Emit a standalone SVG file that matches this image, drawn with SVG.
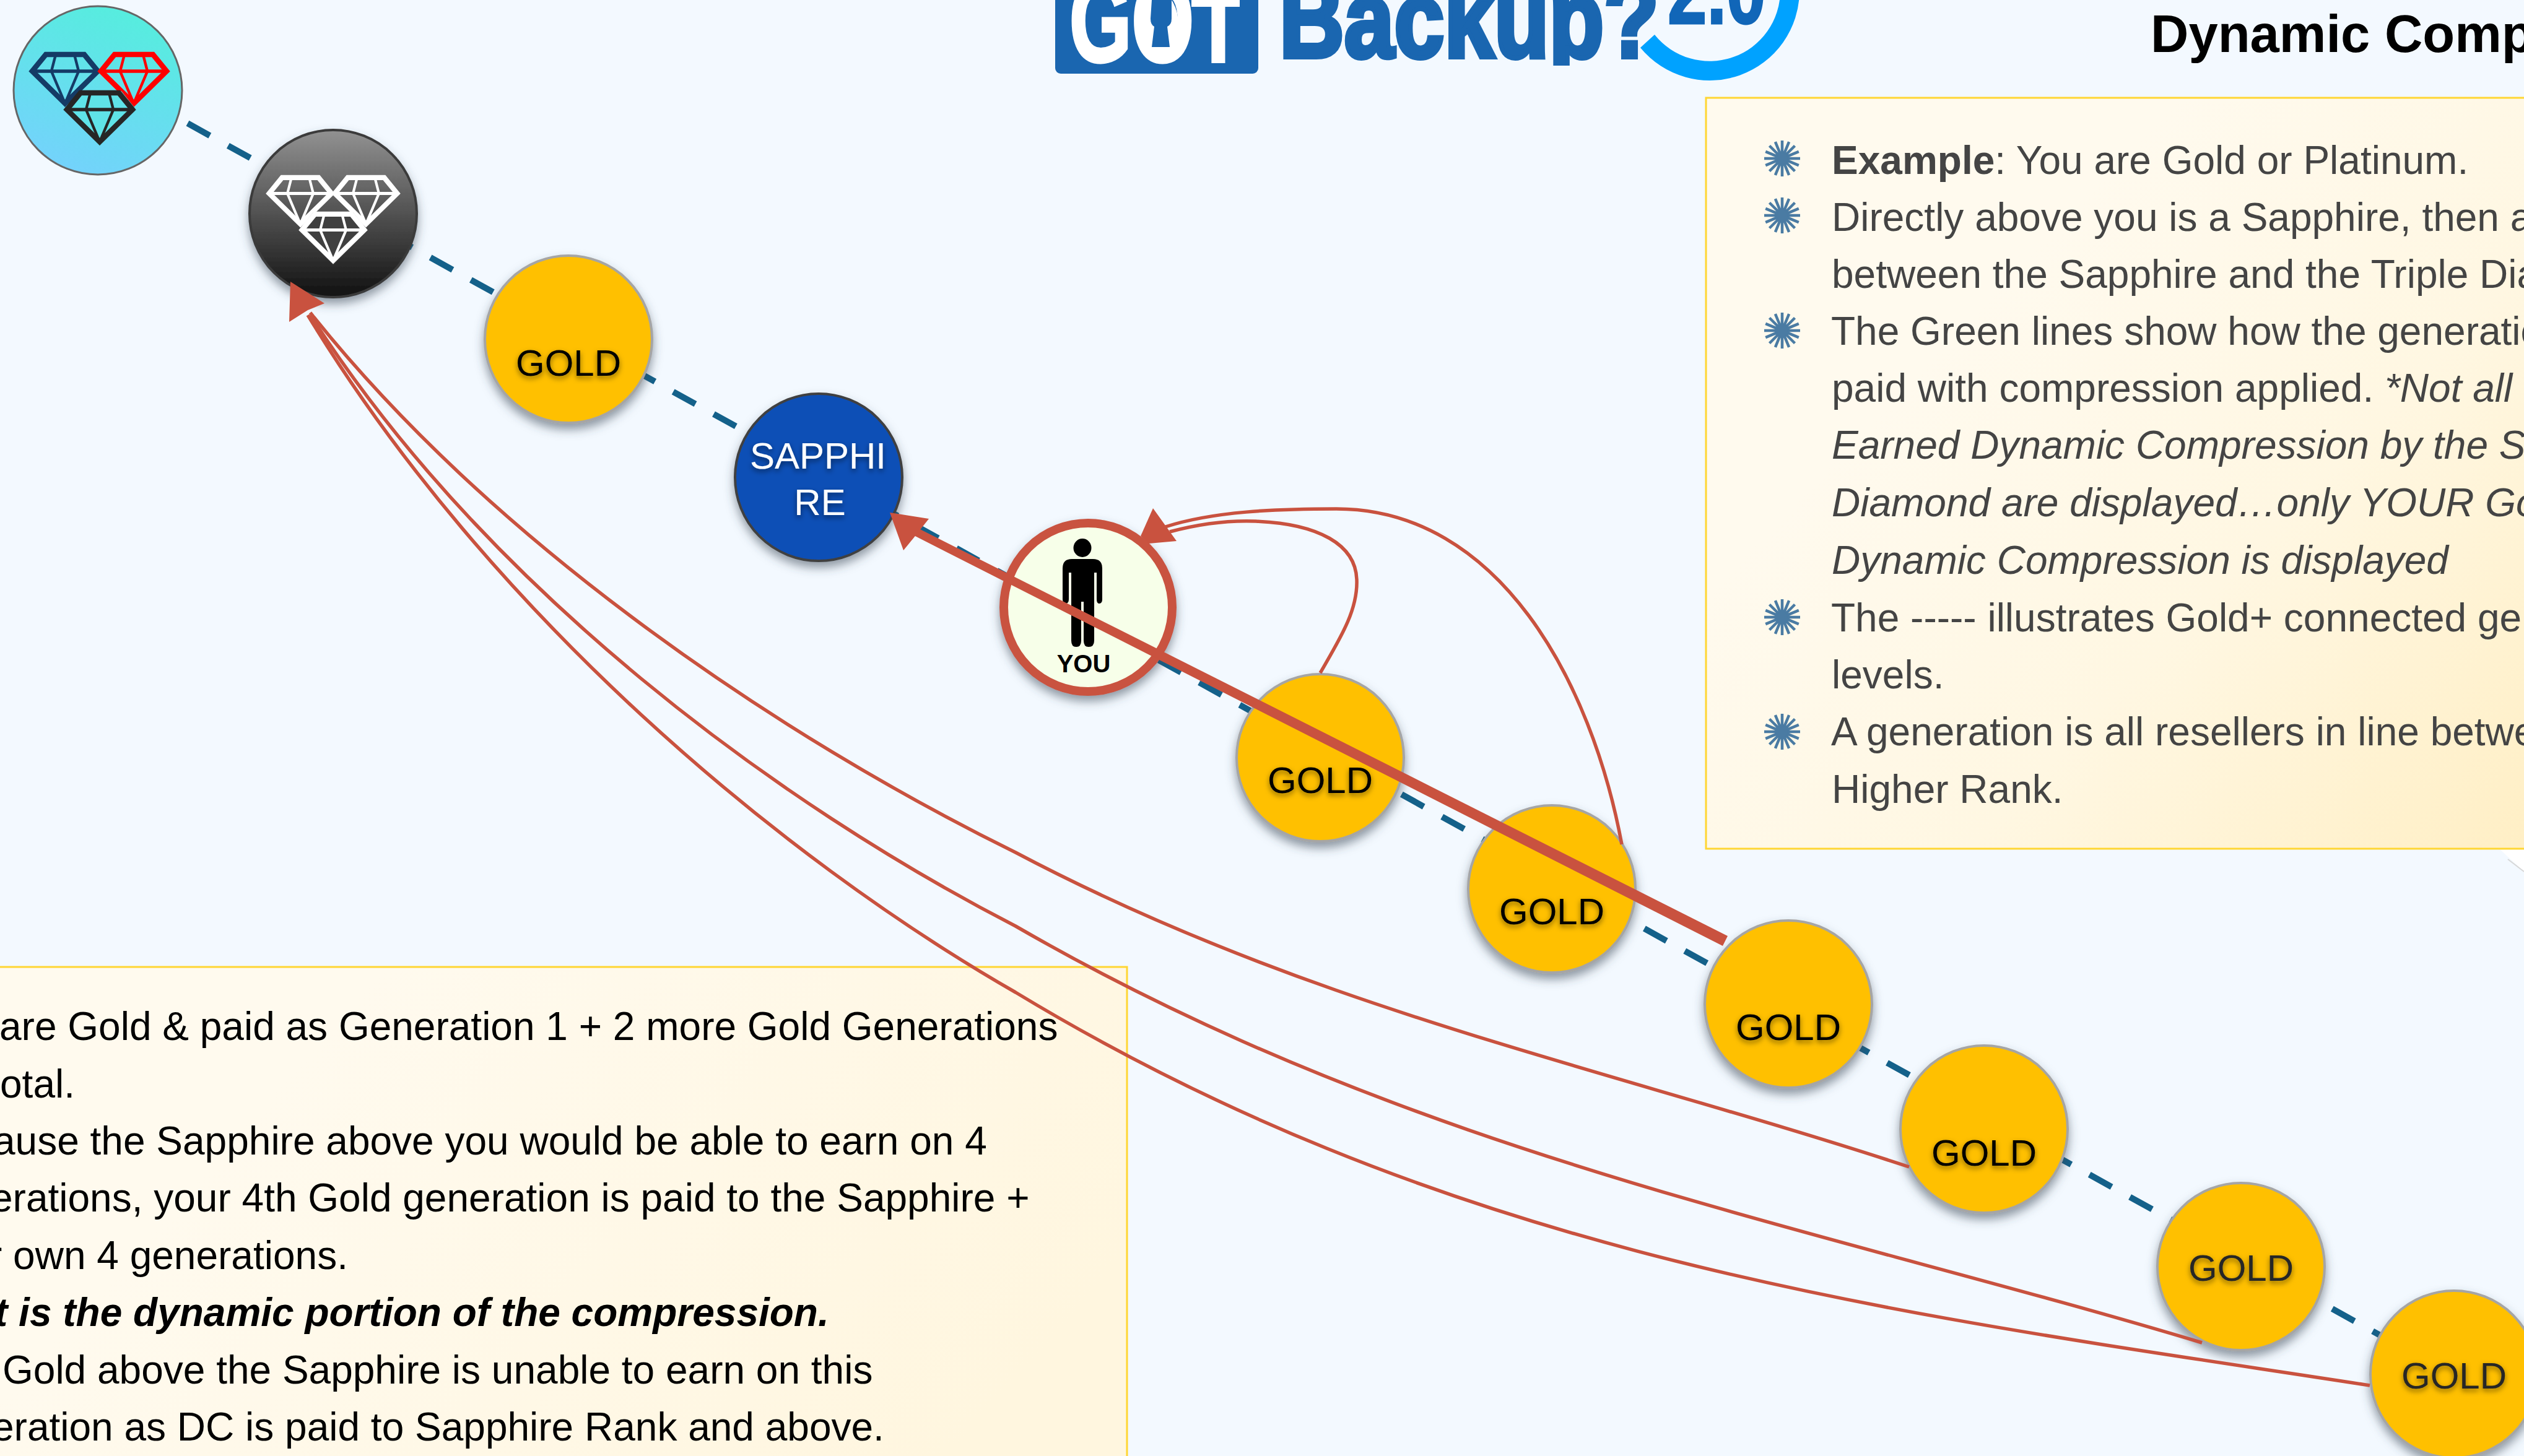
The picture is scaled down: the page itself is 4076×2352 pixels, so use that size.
<svg xmlns="http://www.w3.org/2000/svg" width="4076" height="2352" viewBox="0 0 4076 2352">
<style>
text{font-family:"Liberation Sans",Arial,sans-serif}
.r{font-size:64px;fill:#444}
.l{font-size:64px;fill:#000}
.bi{font-weight:bold;font-style:italic}
.i{font-style:italic}
.b{font-weight:bold}
.gold{fill:#FFC000;stroke:#A5A5A5;stroke-width:4}
.gt{font-size:60px;text-anchor:middle;fill:#000}
.gt2{font-size:60px;text-anchor:middle;fill:#262626}
.thin{fill:none;stroke:#C9523F;stroke-width:5.5}
.red{fill:#C9523F}
.box{stroke:#FFD633;stroke-width:3}
</style>
<defs>
<filter id="sh" x="-20%" y="-20%" width="140%" height="140%"><feDropShadow dx="0" dy="9" stdDeviation="8" flood-color="#3b4a55" flood-opacity=".55"/></filter>
<filter id="ts" x="-20%" y="-30%" width="140%" height="170%"><feDropShadow dx="0" dy="4" stdDeviation="4" flood-color="#000" flood-opacity=".5"/></filter>
<linearGradient id="gr" gradientUnits="userSpaceOnUse" x1="3100" y1="600" x2="4050" y2="1500"><stop offset="0" stop-color="#FFFAEE"/><stop offset=".45" stop-color="#FFF7E2"/><stop offset="1" stop-color="#FFEEC2"/></linearGradient>
<linearGradient id="gl" gradientUnits="userSpaceOnUse" x1="500" y1="1700" x2="1400" y2="2500"><stop offset="0" stop-color="#FFFAEE"/><stop offset="1" stop-color="#FFF6DF"/></linearGradient>
<linearGradient id="gt" x1=".72" y1="0" x2=".35" y2="1"><stop offset="0" stop-color="#55EEDD"/><stop offset="1" stop-color="#74D2FC"/></linearGradient>
<linearGradient id="gb" x1="0" y1="0" x2="0" y2="1"><stop offset="0" stop-color="#929292"/><stop offset="1" stop-color="#111"/></linearGradient>
<clipPath id="logoclip"><rect x="2040" y="-20" width="660" height="126"/></clipPath>
<g id="gem" fill="none" stroke-linejoin="miter">
<path d="M-31,3H31L53,30L0,82L-53,30Z" stroke-width="8.5"/>
<path d="M-53,30H53" stroke-width="5.5"/>
<path d="M-15,3L-22,30L0,82L22,30L15,3" stroke-width="4.4"/>
</g>
<g id="star"><path d="M-29,0H29M-26.8,-11.1L26.8,11.1M-20.5,-20.5L20.5,20.5M-11.1,-26.8L11.1,26.8M0,-29V29M11.1,-26.8L-11.1,26.8M20.5,-20.5L-20.5,20.5M26.8,-11.1L-26.8,11.1" stroke="#4A7BA3" stroke-width="4.5" fill="none"/><circle r="9" fill="#4A7BA3"/></g>
</defs>
<rect width="4076" height="2352" fill="#F3F9FF"/>

<g id="box-right">
<polygon points="4037,1372 4076,1372 4076,1408" fill="#fff"/>
<path d="M4050,1388L4076,1408" stroke="#d8d8d8" stroke-width="2" fill="none"/>
<rect class="box" x="2755" y="158" width="1340" height="1213" fill="url(#gr)"/>
<use href="#star" x="2878" y="256"/><use href="#star" x="2878" y="348"/><use href="#star" x="2878" y="534"/><use href="#star" x="2878" y="997"/><use href="#star" x="2878" y="1182"/>
<text class="r" x="2958" y="281"><tspan class="b">Example</tspan>: You are Gold or Platinum.</text>
<text class="r" x="2958" y="373">Directly above you is a Sapphire, then a</text>
<text class="r" x="2958" y="465">between the Sapphire and the Triple Dia</text>
<text class="r" x="2957" y="557">The Green lines show how the generatio</text>
<text class="r" x="2958" y="649">paid with compression applied. <tspan class="i">*Not all</tspan></text>
<text class="r i" x="2958" y="741">Earned Dynamic Compression by the S</text>
<text class="r i" x="2958" y="834">Diamond are displayed…only YOUR Go</text>
<text class="r i" x="2958" y="927">Dynamic Compression is displayed</text>
<text class="r" x="2957" y="1020">The ----- illustrates Gold+ connected ge</text>
<text class="r" x="2958" y="1112">levels.</text>
<text class="r" x="2957" y="1204">A generation is all resellers in line betwe</text>
<text class="r" x="2958" y="1297">Higher Rank.</text>
</g>

<g id="box-left">
<rect class="box" x="-10" y="1562" width="1830" height="810" fill="url(#gl)"/>
<text class="l" x="-1" y="1680">are Gold &amp; paid as Generation 1 + 2 more Gold Generations</text>
<text class="l" x="0" y="1773">otal.</text>
<text class="l" x="-11" y="1865">ause the Sapphire above you would be able to earn on 4</text>
<text class="l" x="-15" y="1957">erations, your 4th Gold generation is paid to the Sapphire +</text>
<text class="l" x="-18" y="2050">r own 4 generations.</text>
<text class="l bi" x="-9" y="2142">t is the dynamic portion of the compression.</text>
<text class="l" x="4" y="2235">Gold above the Sapphire is unable to earn on this</text>
<text class="l" x="-13" y="2327">eration as DC is paid to Sapphire Rank and above.</text>
</g>

<g id="logo">
<rect x="1704" y="-20" width="328" height="139" rx="9" fill="#1A66B0"/>
<text transform="translate(1727,99) scale(.68,1)" font-size="190" font-weight="bold" fill="#fff" stroke="#fff" stroke-width="5">GOT</text>
<rect x="1924" y="-10" width="78" height="21" fill="#fff"/>
<ellipse cx="1875" cy="40" rx="28" ry="50" fill="#fff"/>
<path d="M1860,0H1892V30Q1892,40 1885,43L1889,76H1860L1864,43Q1858,40 1858,30Z" fill="#1A66B0"/>
<g clip-path="url(#logoclip)"><text transform="translate(2066,92) scale(.82,1)" font-size="177" font-weight="bold" fill="#1A66B0" stroke="#1A66B0" stroke-width="8">Backup?</text></g>
<path d="M2649,77A145,145 0 0 0 2906,-15H2875A114,114 0 0 1 2672,56Z" fill="#00A2FF"/>
<text transform="translate(2693,38) scale(.76,1)" font-size="150" font-weight="bold" fill="#1166B8" stroke="#1166B8" stroke-width="3">2.0</text>
</g>
<text id="title" x="3473" y="84" font-size="85" font-weight="bold" fill="#000">Dynamic Comp</text>

<g id="connectors-dashed"><path d="M172.3,126.9L3963,2223" fill="none" stroke="#14618A" stroke-width="10" stroke-dasharray="41 33.67"/></g>

<g id="node-triple">
<circle cx="158" cy="146" r="136" fill="url(#gt)" stroke="#666" stroke-width="3"/>
<use href="#gem" x="105" y="85" stroke="#153B66"/>
<use href="#gem" x="216" y="85" stroke="#F00"/>
<path d="M130,147H196L219,176L161,236L103,176Z" fill="#5FE3E8"/>
<use href="#gem" x="161" y="147" stroke="#262626"/>
</g>
<g id="node-black" filter="url(#sh)">
<circle cx="538" cy="345" r="135" fill="url(#gb)" stroke="#3a3a3a" stroke-width="4"/>
<use href="#gem" transform="translate(485,284) scale(.95)" stroke="#fff"/>
<use href="#gem" transform="translate(591,284) scale(.95)" stroke="#fff"/>
<path d="M506,343H570L593,372L538,428L483,372Z" fill="#3f3f3f"/>
<use href="#gem" transform="translate(538,343) scale(.95)" stroke="#fff"/>
</g>
<g id="node-gold-1"><circle class="gold" cx="918" cy="548" r="135" filter="url(#sh)"/><text class="gt" x="918" y="607" filter="url(#ts)">GOLD</text></g>
<g id="node-sapphire"><circle cx="1322" cy="771" r="135" fill="#0F50B6" stroke="#3f3f3f" stroke-width="4" filter="url(#sh)"/>
<text x="1321" y="757" font-size="60" text-anchor="middle" fill="#fff" filter="url(#ts)">SAPPHI</text><text x="1324" y="832" font-size="60" text-anchor="middle" fill="#fff" filter="url(#ts)">RE</text></g>
<g id="node-you">
<circle cx="1757" cy="981" r="136" fill="#F7FFE9" stroke="#C9523F" stroke-width="14" filter="url(#sh)"/>
<ellipse cx="1748" cy="885" rx="14.5" ry="15"/>
<path d="M1716,918Q1716,903 1731,903H1765Q1780,903 1780,918V968Q1780,975 1775,975Q1771,975 1771,968V925H1767V1035Q1767,1045 1758,1045Q1750,1045 1750,1035V972H1746V1035Q1746,1045 1738,1045Q1730,1045 1730,1035V925H1726V968Q1726,975 1721,975Q1716,975 1716,968Z"/>
<text x="1750" y="1086" font-size="40" font-weight="bold" text-anchor="middle" fill="#000">YOU</text>
</g>
<g id="node-gold-2"><circle class="gold" cx="2132" cy="1224" r="135" filter="url(#sh)"/><text class="gt" x="2132" y="1281" filter="url(#ts)">GOLD</text></g>
<g id="node-gold-3"><circle class="gold" cx="2506" cy="1436" r="135" filter="url(#sh)"/><text class="gt" x="2506" y="1493" filter="url(#ts)">GOLD</text></g>
<g id="node-gold-4"><circle class="gold" cx="2888" cy="1622" r="135" filter="url(#sh)"/><text class="gt" x="2888" y="1680" filter="url(#ts)">GOLD</text></g>
<g id="node-gold-5"><circle class="gold" cx="3204" cy="1824" r="135" filter="url(#sh)"/><text class="gt" x="3204" y="1883" filter="url(#ts)">GOLD</text></g>
<g id="node-gold-6"><circle class="gold" cx="3619" cy="2046" r="135" filter="url(#sh)"/><text class="gt2" x="3619" y="2069" filter="url(#ts)">GOLD</text></g>
<g id="node-gold-7"><circle class="gold" cx="3963" cy="2220" r="135" filter="url(#sh)"/><text class="gt2" x="3963" y="2243" filter="url(#ts)">GOLD</text></g>

<g id="connectors">
<path class="thin" d="M3083,1885C2603,1727 2120,1631 1640,1377C1260,1190 800,880 501,505"/>
<path class="thin" d="M3556,2169C2917,1977 2280,1866 1640,1496C1260,1300 790,957 501,509"/>
<path class="thin" d="M3827,2238C3097,2125 2370,2045 1640,1603C1260,1385 790,991 497,509"/>
<polygon class="red" points="469,455 524,490 497,501 467,520"/>
<path class="thin" d="M2132,1087C2165,1030 2193,985 2191,936C2189,880 2130,846 2028,842C1975,840 1930,848 1889,859"/>
<path class="thin" d="M2619,1364C2570,1100 2420,822 2158,822C2060,822 1960,826 1882,851"/>
<polygon class="red" points="1862,821 1900,874 1855,878 1842,866"/>
<path class="red" d="M1480,852L2790,1512L2782,1528L1474,864Z"/>
<polygon class="red" points="1437,828 1500,838 1477,867 1459,889"/>
</g>
</svg>
